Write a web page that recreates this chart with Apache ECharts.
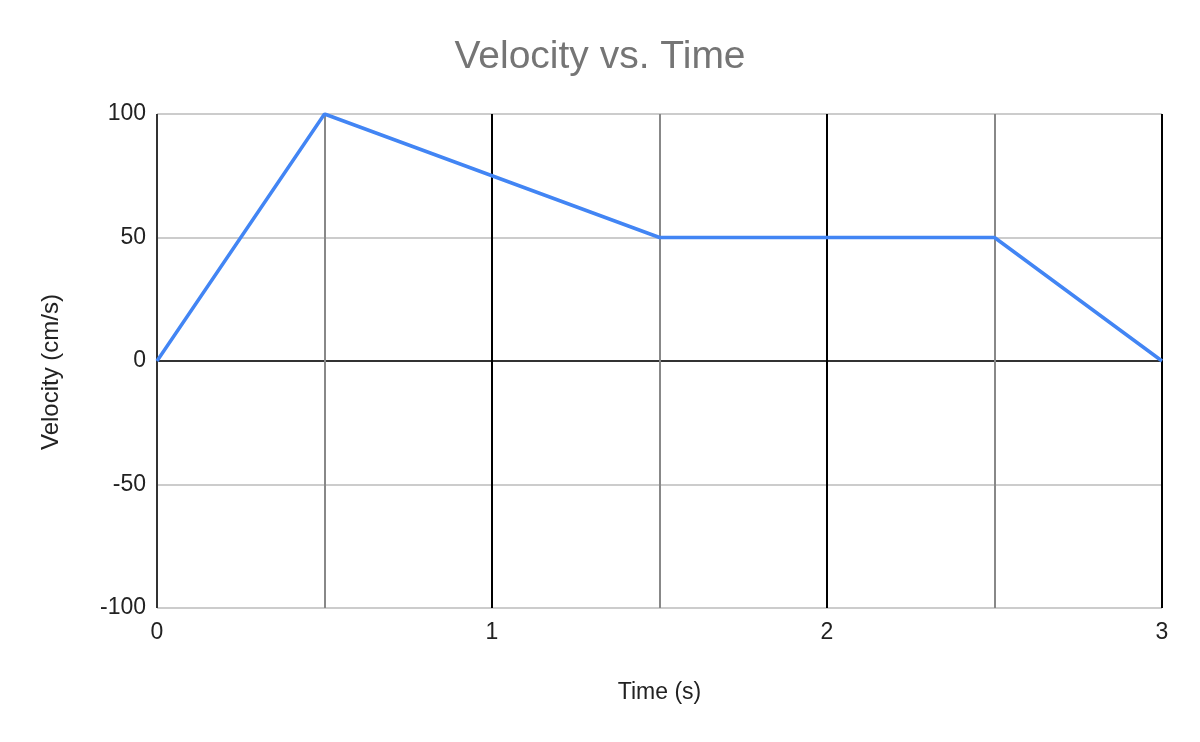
<!DOCTYPE html>
<html>
<head>
  <meta charset="utf-8">
  <script src="https://cdn.jsdelivr.net/npm/echarts@6.0.0/dist/echarts.min.js"></script>
  <style>
    html, body { margin: 0; padding: 0; background: #fff; }
    #chart { width: 1200px; height: 742px; }
  </style>
</head>
<body>
  <div id="chart"></div>
  <script>
    // time (s) and velocity (cm/s)
    var times = [0, 0.5, 1.5, 2.5, 3];
    var velocities = [0, 100, 50, 50, 0];

    var chart = echarts.init(document.getElementById('chart'));
    var font = '"Liberation Sans", Arial, sans-serif';

    var option = {
      animation: false,
      title: {
        text: 'Velocity vs. Time',
        left: 'center',
        top: 33,
        textStyle: { color: '#757575', fontSize: 39, fontWeight: 'normal', fontFamily: font }
      },
      grid: { left: 157, right: 38, top: 114, bottom: 134 },
      xAxis: {
        type: 'value',
        min: 0,
        max: 3,
        interval: 1,
        name: 'Time (s)',
        nameLocation: 'middle',
        nameGap: 73,
        nameTextStyle: { color: '#222', fontSize: 23, fontFamily: font },
        axisLine: { show: false },
        axisTick: { show: false },
        axisLabel: { color: '#222', fontSize: 23, fontFamily: font, margin: 13 },
        splitLine: { show: true, lineStyle: { color: ['#333', '#000', '#000', '#000'], width: 2 } },
        minorTick: { show: false, splitNumber: 2 },
        minorSplitLine: { show: true, lineStyle: { color: '#888', width: 2 } }
      },
      yAxis: {
        type: 'value',
        min: -100,
        max: 100,
        interval: 50,
        name: 'Velocity (cm/s)',
        nameLocation: 'middle',
        nameGap: 94,
        nameTextStyle: { color: '#222', fontSize: 24, fontFamily: font, padding: [0, 22, 0, 0] },
        axisLine: { show: false },
        axisTick: { show: false },
        axisLabel: { color: '#222', fontSize: 23, fontFamily: font, margin: 11 },
        splitLine: { show: true, lineStyle: { color: ['#ccc', '#ccc', '#333', '#ccc', '#ccc'], width: 2 } }
      },
      series: [{
        type: 'line',
        data: times.map(function (t, i) { return [t, velocities[i]]; }),
        showSymbol: false,
        lineStyle: { color: '#4285F4', width: 3.5 },
        z: 5
      }]
    };

    chart.setOption(option);
  </script>
</body>
</html>
